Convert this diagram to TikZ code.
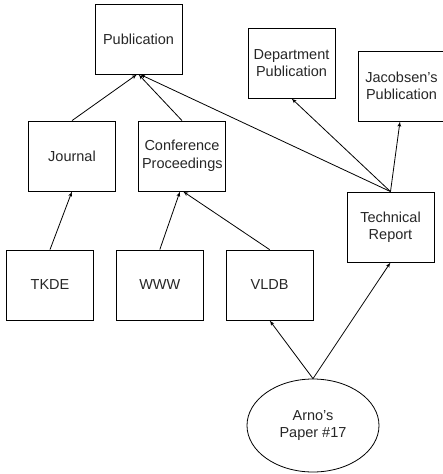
\documentclass[tikz,border=0pt]{standalone}
\usepackage{fontspec}
\setmainfont{Liberation Sans}
\usetikzlibrary{positioning,shapes,arrows}
\tikzstyle{class} = [draw, rectangle, line width=0.8pt, text centered, text width=80pt, minimum width=87pt, minimum height=70pt, inner sep=0pt, text=black!85, font=\fontsize{14.5}{17.5}\selectfont]
\tikzstyle{instance} = [draw, ellipse, line width=0.8pt, align=center, minimum width=132pt, minimum height=93pt, inner sep=0pt, text=black!85, font=\fontsize{14.5}{17.5}\selectfont]
\tikzstyle{line} = [draw, line width=0.8pt, -latex']

\begin{document}
\begin{tikzpicture}[x=1pt, y=-1pt]
    \useasboundingbox (0,0) rectangle (443,474);

    % Place nodes
    \node [class] (publication) at (138.5,39) {Publication};
    \node [class] (dept) at (291.5,63) {Department\\Publication};
    \node [class] (jacobsen) at (401.5,86) {Jacobsen’s\\Publication};
    \node [class] (journal) at (72,156) {Journal};
    \node [class] (conference) at (182,156) {Conference\\Proceedings};
    \node [class] (techreport) at (390.5,227) {Technical\\Report};
    \node [class] (tkde) at (50,285) {TKDE};
    \node [class, right=22pt of tkde] (www) {WWW};
    \node [class, right=22pt of www] (vldb) {VLDB};
    \node [instance] (paper) at (313,425.5) {Arno’s\\Paper \#17};

    % Draw edges
    \path [line] (journal.north) -- ([xshift=-1.5pt]publication.south);
    \path [line] (conference.north) -- (publication.south);
    \path [line] (techreport.north) -- ([xshift=1.5pt]publication.south);
    \path [line] (techreport.north) -- (dept.south);
    \path [line] (techreport.north) -- ([xshift=-1.5pt]jacobsen.south);
    \path [line] (tkde.north) -- (journal.south);
    \path [line] (www.north) -- ([xshift=-2pt]conference.south);
    \path [line] (vldb.north) -- ([xshift=1pt]conference.south);
    \path [line] (paper.north) -- (vldb.south);
    \path [line] (paper.north) -- (techreport.south);
\end{tikzpicture}
\end{document}
